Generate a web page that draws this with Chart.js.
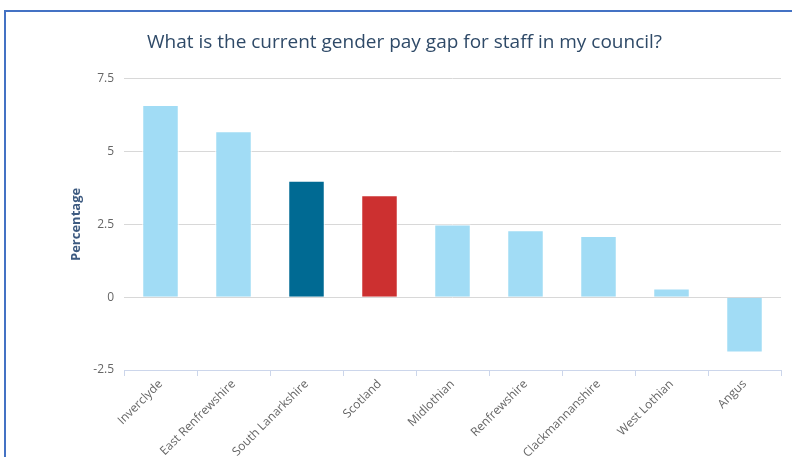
<!DOCTYPE html>
<html>
<head>
<meta charset="utf-8">
<script src="https://cdn.jsdelivr.net/npm/chart.js@4.4.1/dist/chart.umd.min.js"></script>
<style>
    html, body { margin: 0; padding: 0; background: #fff; overflow: hidden; }
    .frame { position: absolute; left: 4px; top: 10px; width: 1000px; height: 1000px; border: 2px solid #4472c4; }
    .wrap { position: absolute; left: 0; top: 0; width: 792px; height: 457px; }
</style>
</head>
<body>
<div class="frame"></div>
<div class="wrap"><canvas id="pay-gap"></canvas></div>
<script>
    "use strict";

    // Data
    var councils = ["Inverclyde", "East Renfrewshire", "South Lanarkshire", "Scotland", "Midlothian",
        "Renfrewshire", "Clackmannanshire", "West Lothian", "Angus"];
    var payGap = [6.6, 5.7, 4.0, 3.5, 2.5, 2.3, 2.1, 0.3, -1.9];
    var yTicks = [-2.5, 0, 2.5, 5, 7.5];

    // Colours
    var barColour = function (name) {
        if (name === "South Lanarkshire") return "#006a93";
        if (name === "Scotland") return "#cc3030";
        return "#a1dcf5";
    };

    Chart.defaults.font.family = "'Open Sans', sans-serif";

    var ctx = document.getElementById("pay-gap").getContext("2d");
    var myChart = new Chart(ctx, {
        type: "bar",
        data: {
            labels: councils,
            datasets: [{
                label: "Gender pay gap",
                data: payGap,
                backgroundColor: councils.map(barColour),
                borderColor: "#ffffff",
                borderWidth: 1,
                categoryPercentage: 1,
                barPercentage: 0.5
            }]
        },
        options: {
            responsive: true,
            maintainAspectRatio: false,
            animation: false,
            layout: { padding: { left: 28, right: 11, top: 0, bottom: 0 } },
            plugins: {
                legend: { display: false },
                tooltip: { enabled: false },
                title: {
                    display: true,
                    text: "What is the current gender pay gap for staff in my council?",
                    color: "#2f4a68",
                    font: { size: 19, weight: "normal" },
                    padding: { top: 31, bottom: 25 }
                }
            },
            scales: {
                x: {
                    grid: { drawOnChartArea: false, drawTicks: true, tickLength: 6, color: "#ccd6eb", offset: true },
                    border: { display: true, color: "#ccd6eb", width: 1 },
                    ticks: { color: "#666666", font: { size: 12 }, minRotation: 45, maxRotation: 45, padding: 1, autoSkip: false },
                    afterFit: function (scale) { scale.height = 87; }
                },
                y: {
                    min: -2.5,
                    max: 7.5,
                    afterBuildTicks: function (scale) {
                        scale.ticks = yTicks.map(function (v) { return { value: v }; });
                    },
                    grid: { color: "#d8d8d8", drawTicks: false },
                    border: { display: false },
                    ticks: { color: "#666666", font: { size: 12 }, padding: 10 },
                    title: {
                        display: true,
                        text: "Percentage",
                        color: "#3d5a80",
                        font: { size: 13, weight: "bold" },
                        padding: { top: 40, bottom: 0 }
                    },
                    afterFit: function (scale) { scale.width = 96; }
                }
            }
        }
    });
</script>
</body>
</html>
